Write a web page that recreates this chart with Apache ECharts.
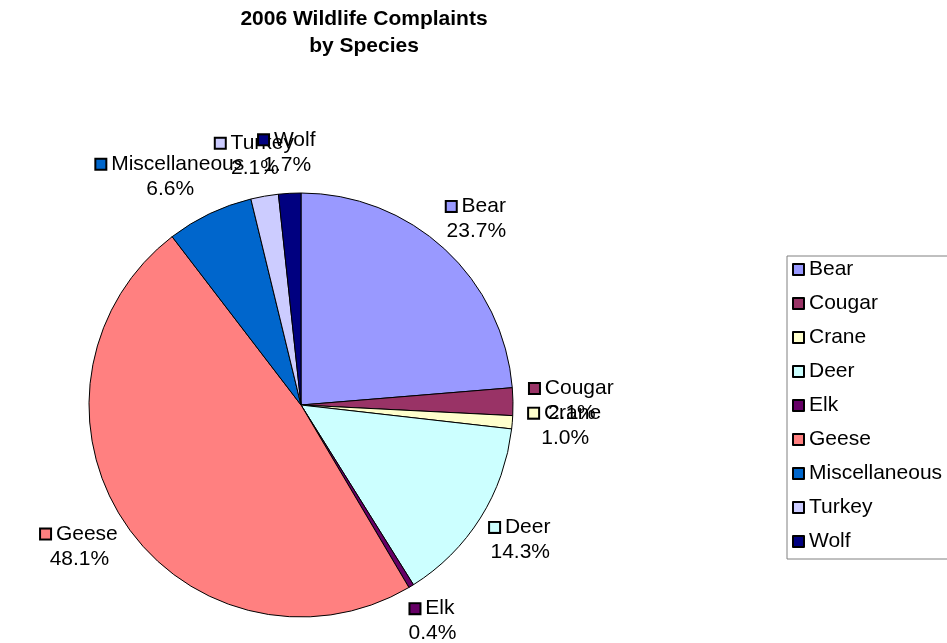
<!DOCTYPE html>
<html>
<head>
<meta charset="utf-8">
<script src="https://cdn.jsdelivr.net/npm/echarts@6/dist/echarts.min.js"></script>
<style>
  html, body { margin: 0; padding: 0; background: #fff; }
  #main { width: 947px; height: 643px; }
</style>
</head>
<body>
<div id="main"></div>
<script>
var species = ['Bear', 'Cougar', 'Crane', 'Deer', 'Elk', 'Geese', 'Miscellaneous', 'Turkey', 'Wolf'];
var shares = [23.7, 2.1, 1.0, 14.3, 0.4, 48.1, 6.6, 2.1, 1.7];
var colors = ['#9999FF', '#993366', '#FFFFCC', '#CCFFFF', '#660066', '#FF8080', '#0066CC', '#CCCCFF', '#000080'];

var myChart = echarts.init(document.getElementById('main'));

// small coloured key squares inside the slice labels
var rich = {};
species.forEach(function (s, i) {
    rich['k' + i] = {
        width: 9, height: 9,
        backgroundColor: colors[i],
        borderColor: '#000', borderWidth: 2
    };
});

var pieData = species.map(function (s, i) {
    return { name: s, value: shares[i], itemStyle: { color: colors[i] } };
});

var option = {
    backgroundColor: '#fff',
    animation: false,
    color: colors,
    title: {
        text: '2006 Wildlife Complaints\nby Species',
        left: 364, top: 6, padding: 0,
        textAlign: 'center',
        textStyle: {
            fontFamily: 'Liberation Sans, Arial',
            fontSize: 21, fontWeight: 'bold', color: '#000', lineHeight: 27
        }
    },
    legend: {
        orient: 'vertical',
        left: 787, top: 256,
        padding: [3, 30, 7, 5],
        itemWidth: 11, itemHeight: 11,
        itemGap: 13,
        icon: 'rect',
        borderColor: '#808080', borderWidth: 1,
        itemStyle: { borderColor: '#000', borderWidth: 2 },
        textStyle: { fontFamily: 'Liberation Sans, Arial', fontSize: 21, color: '#000', lineHeight: 21 },
        data: species
    },
    series: [{
        type: 'pie',
        center: [301, 405],
        radius: 212,
        startAngle: 90,
        clockwise: true,
        avoidLabelOverlap: false,
        itemStyle: { borderColor: '#000', borderWidth: 1 },
        label: {
            show: true,
            position: 'outside',
            fontFamily: 'Liberation Sans, Arial',
            fontSize: 21, color: '#000', lineHeight: 25,
            formatter: function (p) {
                var i = p.dataIndex;
                return '{k' + i + '|} ' + p.name + '\n' + shares[i].toFixed(1) + '%';
            },
            rich: rich
        },
        // invisible guide line, only used to get the anchor point
        labelLine: { show: true, length: 16, length2: 0, lineStyle: { opacity: 0 } },
        labelLayout: function (p) {
            var pts = p.labelLinePoints;
            if (!pts) return { align: 'center', verticalAlign: 'middle' };
            var dx = pts[1][0] - pts[0][0], dy = pts[1][1] - pts[0][1];
            var len = Math.sqrt(dx * dx + dy * dy) || 1;
            return {
                x: pts[1][0] + dx / len * p.labelRect.width / 2,
                y: pts[1][1] + dy / len * p.labelRect.height / 2,
                align: 'center',
                verticalAlign: 'middle'
            };
        },
        data: pieData
    }]
};

myChart.setOption(option);
</script>
</body>
</html>
